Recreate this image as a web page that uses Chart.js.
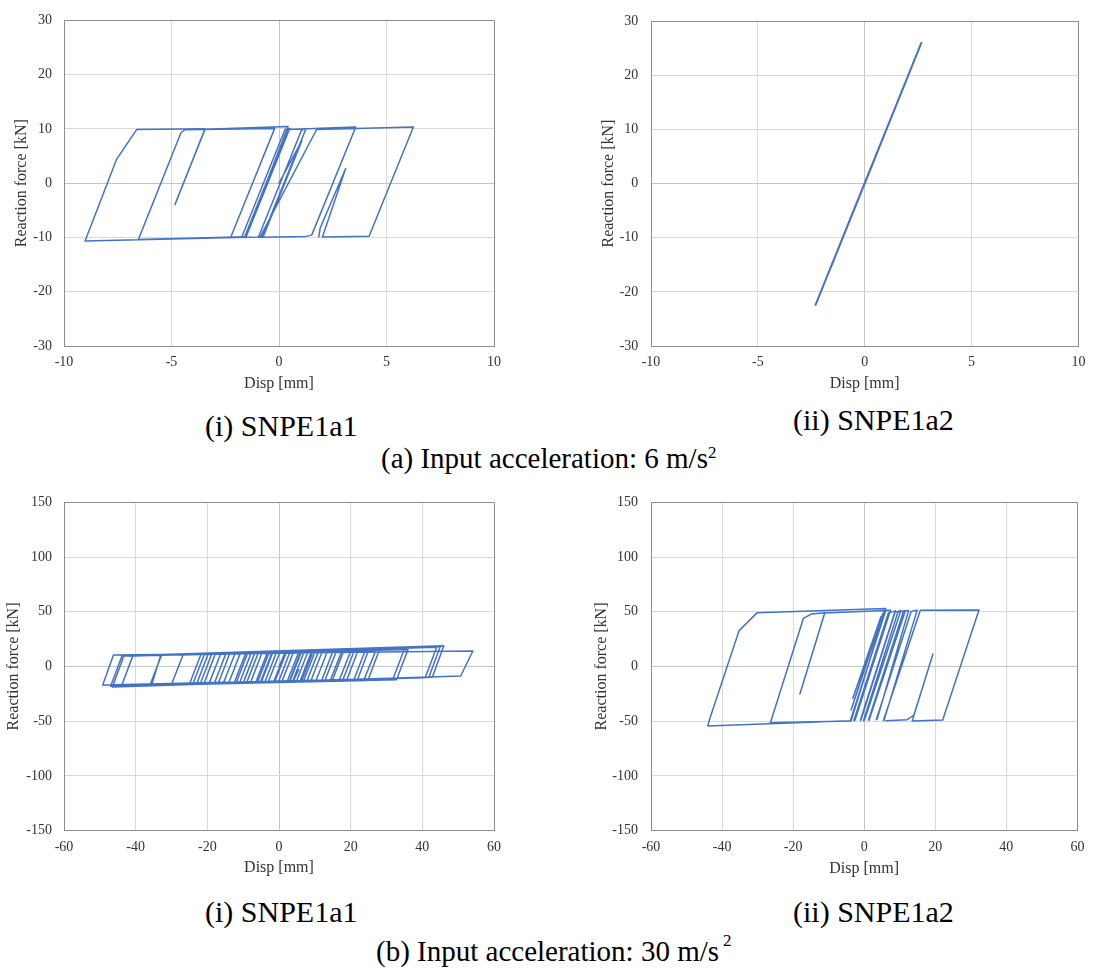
<!DOCTYPE html>
<html>
<head>
<meta charset="utf-8">
<script src="https://cdn.jsdelivr.net/npm/chart.js@4.4.1/dist/chart.umd.min.js"></script>
<style>
html,body{margin:0;padding:0;background:#fff;}
body{width:1093px;height:973px;position:relative;overflow:hidden;font-family:'Liberation Serif','Times New Roman',serif;}
canvas{position:absolute;}
.cap{position:absolute;white-space:nowrap;color:#000;font-family:'Liberation Serif','Times New Roman',serif;}
.sub{font-size:30px;line-height:30px;}
.main{font-size:29px;line-height:29px;}
.cap sup{font-size:17px;line-height:0;}
</style>
</head>
<body>
<canvas id="cA1" width="520" height="400" style="left:0px;top:0px"></canvas>
<canvas id="cA2" width="513" height="400" style="left:580px;top:0px"></canvas>
<canvas id="cB1" width="520" height="400" style="left:0px;top:480px"></canvas>
<canvas id="cB2" width="513" height="400" style="left:580px;top:480px"></canvas>

<div class="cap sub" style="left:205px;top:411px">(i) SNPE1a1</div>
<div class="cap sub" style="left:793px;top:405px">(ii) SNPE1a2</div>
<div class="cap main" style="left:381px;top:444px">(a) Input acceleration: 6 m/s<sup style="vertical-align:10px">2</sup></div>
<div class="cap sub" style="left:205px;top:897px">(i) SNPE1a1</div>
<div class="cap sub" style="left:793px;top:897px">(ii) SNPE1a2</div>
<div class="cap main" style="left:376px;top:937px">(b) Input acceleration: 30 m/s<sup style="vertical-align:15px;margin-left:4px">2</sup></div>

<script>
// ---- tick values ----
const xTicks6 = [-10, -5, 0, 5, 10];
const yTicks6 = [-30, -20, -10, 0, 10, 20, 30];
const xTicks30 = [-60, -40, -20, 0, 20, 40, 60];
const yTicks30 = [-150, -100, -50, 0, 50, 100, 150];

// ---- (a) 6 m/s2, SNPE1a1 ----
const disp_a1 = [0,1.07,-0.35,0.98,-0.73,-0.96,1.05,1.25,-0.75,-1.0,
  -9.02,-7.55,-6.62,-3.44,-4.84,-3.44,0.42,-1.55,-6.54,-4.56,
  -4.37,-0.2,-2.25,-1.74,0.28,0.5,-1.5,-1.6,0.4,3.57,
  1.52,1.25,-0.88,1.75,6.25,4.19,2.02,3.1,1.92,1.85];
const force_a1 = [0,7.9,-6.0,7.0,-9.8,-9.95,9.8,10.0,-9.6,-9.9,
  -10.65,4.45,9.88,10.05,-3.95,9.95,10.45,-9.85,-10.36,9.3,
  9.85,10.1,-10.0,-10.0,9.9,10.1,-9.6,-9.9,9.9,10.37,
  -9.57,-9.8,-9.95,9.9,10.37,-9.76,-9.9,2.7,-8.2,-9.9];

// ---- (a) 6 m/s2, SNPE1a2 ----
const disp_a2 = [0,1.2,-0.9,2.0,-1.6,2.65,-2.3,1.5,-1.0,0.3];
const force_a2 = [0,11.8,-8.7,19.6,-15.6,25.96,-22.4,14.7,-9.7,3.0];

// ---- (b) 30 m/s2, SNPE1a1 ----
const disp_b1 = [0,1.7,6,2.8,-4,-0.8,9,5.8,-8,-4.8,
  12,8.8,-12,-8.8,3,-0.2,-17,-13.8,15,11.8,
  -22,-18.8,18,14.8,-5,-1.8,22,18.8,-23,-19.8,
  8,4.8,-21,-17.8,25,21.8,-25,-21.8,28,24.8,
  -10,-6.8,36,32.8,-36,-32.8,24,20.8,-47,-43.8,
  46,42.8,-30,-26.8,44,40.8,-49.2,-46.2,54.1,50.7,
  -46.5,-43.3,45,41.8,-44,-40.8,35,31.8,-35.5,-33,
  27,23.8,-24,-20.8,20,16.8,-18,-14.8,16,12.8,
  -14,-10.8,11,7.8,-9,-5.8,7,3.8,-3,0.2,
  4,0.8,-6.5,-3.3,2,-1.2,-11,-7.8,-2,-5.2,
  -15.5,-12.3,5.5,2.3,-19.5,-16.3,9.5,6.3,-12.5,-9.3,
  13.5,10.3,-6,-2.8,17.5,14.3,-1.5,1.7,21,17.8,
  3,6.2,10,6.8,4,5.5];
const force_b1 = [0,12.6,12.9,-14.3,-14.8,12.4,13.1,-14.1,-15.1,12.2,
  13.3,-13.9,-15.3,11.9,12.7,-14.5,-15.7,11.5,13.6,-13.7,
  -16.0,11.2,13.8,-13.5,-14.9,12.4,14.2,-13.2,-16.1,11.1,
  13.1,-14.2,-16.0,11.3,14.8,-13.0,-16.3,11.0,15.0,-12.8,
  -15.2,12.0,15.5,-12.2,-17.0,10.2,14.2,-13.0,-18.0,9.8,
  19.0,-9.8,-16.5,10.6,17.5,-10.3,-17.0,10.5,14.2,-8.7,
  -18.8,9.5,18.3,-10.0,-18.2,9.7,16.0,-11.5,-16.5,10.5,
  14.5,-11.5,-15.5,11.5,14.0,-12.5,-15.0,12.0,13.8,-12.8,
  -14.8,12.2,13.6,-13.0,-14.5,12.3,13.2,-13.5,-14.2,12.5,
  12.8,-13.8,-14.6,12.2,12.6,-14.0,-14.9,12.0,12.4,-14.3,
  -15.1,11.7,13.0,-13.6,-15.4,11.4,13.4,-13.3,-14.9,12.0,
  13.7,-13.0,-14.4,12.3,14.0,-12.8,-14.1,12.6,14.3,-12.4,
  -13.6,12.9,13.1,-13.4,-13.5,-3];

// ---- (b) 30 m/s2, SNPE1a2 ----
const disp_b2 = [0,4.7,-3.2,5.2,-3.7,5.6,6.1,-3.9,-44.0,-43.6,
  -35.2,-30.1,6.06,-3.7,-26.4,-17.1,-14.8,-11.1,-18.1,-11.1,
  7.4,-2.6,-2.9,6.8,8.8,-0.9,-1.1,8.6,10.3,0.04,
  -0.2,9.5,11.6,1.4,1.2,11.0,12.5,3.7,3.4,13.2,
  14.9,5.6,5.4,15.8,32.3,22.1,13.5,19.35,14.0,12.1,6.1];
const force_b2 = [0,45.5,-29.0,48.0,-39.8,50.5,51.5,-49.5,-54.4,-49.0,
  32.8,49.2,53.0,-49.8,-51.3,44.0,48.0,49.2,-25.1,48.8,
  51.3,-49.2,-49.4,49.0,50.8,-49.0,-49.2,49.5,51.0,-49.3,
  -49.5,49.8,51.2,-48.8,-49.0,49.8,51.3,-47.5,-48.6,50.2,
  51.5,-49.0,-49.3,51.4,51.6,-48.8,-49.9,11.4,-44.3,-48.6,-49.5];

const FAMILY = "'Liberation Serif','Times New Roman',serif";
const EDGE = '#8c8c8c';
const GRID = '#d9d9d9';
const ZERO = '#c4c4c4';
const TXT = '#333333';

function gridColor(ticks) {
  const lo = ticks[0], hi = ticks[ticks.length - 1];
  return (ctx) => {
    const v = ctx.tick ? ctx.tick.value : null;
    if (v === lo || v === hi) return EDGE;
    if (v === 0) return ZERO;
    return GRID;
  };
}

function build(id, disp, force, xt, yt, c) {
  const pts = disp.map((x, i) => ({ x: x, y: force[i] }));
  new Chart(document.getElementById(id), {
    type: 'scatter',
    data: {
      datasets: [{
        data: pts, showLine: true, borderColor: '#4472C4', backgroundColor: '#4472C4',
        borderWidth: c.lw, pointRadius: 0, pointHoverRadius: 0, fill: false, tension: 0,
        borderJoinStyle: 'round', borderCapStyle: 'round'
      }]
    },
    options: {
      responsive: false, animation: false, events: [],
      layout: { padding: { left: 0, top: c.padTop, right: c.padRight, bottom: 0 } },
      plugins: { legend: { display: false }, tooltip: { enabled: false } },
      scales: {
        x: {
          type: 'linear', min: xt[0], max: xt[xt.length - 1],
          afterBuildTicks: (s) => { s.ticks = xt.map(v => ({ value: v })); },
          afterFit: (s) => { s.height = c.xH; },
          grid: { color: gridColor(xt), drawTicks: false, lineWidth: 1 },
          border: { display: true, color: EDGE, width: 1 },
          ticks: { padding: c.xPad, color: TXT, font: { family: FAMILY, size: 14 }, maxRotation: 0, autoSkip: false, callback: (v) => String(v) },
          title: { display: true, text: 'Disp [mm]', color: TXT, font: { family: FAMILY, size: 16 }, padding: { top: 0, bottom: c.xTitlePad } }
        },
        y: {
          type: 'linear', min: yt[0], max: yt[yt.length - 1],
          afterBuildTicks: (s) => { s.ticks = yt.map(v => ({ value: v })); },
          afterFit: (s) => { s.width = c.yW; },
          grid: { color: gridColor(yt), drawTicks: false, lineWidth: 1 },
          border: { display: true, color: EDGE, width: 1 },
          ticks: { padding: c.yPad, color: TXT, font: { family: FAMILY, size: 14 }, autoSkip: false, callback: (v) => String(v) },
          title: { display: true, text: 'Reaction force [kN]', color: TXT, font: { family: FAMILY, size: 16 }, padding: { top: c.yTitlePad, bottom: 0 } }
        }
      }
    }
  });
}

build('cA1', disp_a1, force_a1, xTicks6, yTicks6,
  { lw: 1.5, padTop: 15, padRight: 26, xH: 54, yW: 64, xPad: 7.6, xTitlePad: 6.4, yPad: 12, yTitlePad: 11.9 });
build('cA2', disp_a2, force_a2, xTicks6, yTicks6,
  { lw: 2, padTop: 15, padRight: 11, xH: 54, yW: 71, xPad: 7.6, xTitlePad: 6.4, yPad: 12.7, yTitlePad: 18.7 });
build('cB1', disp_b1, force_b1, xTicks30, yTicks30,
  { lw: 1.5, padTop: 22.3, padRight: 26, xH: 49.3, yW: 64, xPad: 8.6, xTitlePad: 2.4, yPad: 12, yTitlePad: 4.4 });
build('cB2', disp_b2, force_b2, xTicks30, yTicks30,
  { lw: 1.5, padTop: 22.3, padRight: 11, xH: 49.3, yW: 71, xPad: 8.6, xTitlePad: 2.1, yPad: 13, yTitlePad: 12.1 });
</script>
</body>
</html>
